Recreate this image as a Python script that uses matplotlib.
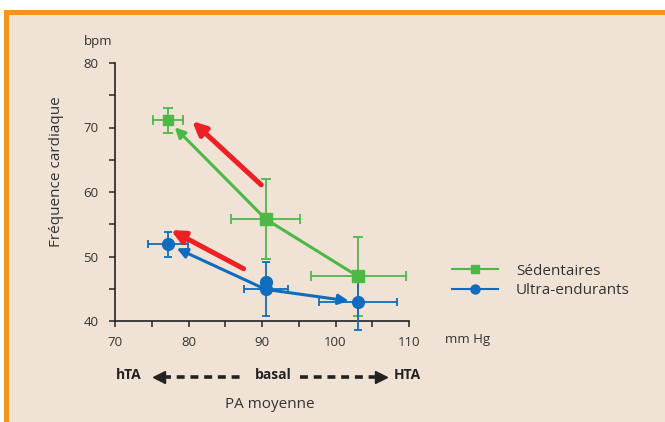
import matplotlib
matplotlib.use("Agg")
import matplotlib.pyplot as plt
from matplotlib.lines import Line2D
from matplotlib.patches import Rectangle
from matplotlib.ticker import MultipleLocator

plt.rcParams['font.family'] = ['Open Sans', 'DejaVu Sans']

# ---- data ----
series_names = ["Sédentaires", "Ultra-endurants"]
sed_pa = [77.2, 90.5, 103.1]
sed_fc = [71.1, 55.8, 46.9]
sed_pa_err = [2.0, 4.7, 6.5]
sed_fc_err = [2.0, 6.2, 6.1]

ue_pa = [77.2, 90.5, 103.1]
ue_fc = [51.9, 44.9, 42.9]
ue_pa_err = [2.7, 3.0, 5.3]
ue_fc_err = [1.9, 4.2, 4.3]
ue_extra_pa = [90.5]
ue_extra_fc = [46.1]

# red trend arrows: (tail_x, tail_y, tip_x, tip_y)
red_arrows = [(89.9, 61.1, 80.5, 71.0), (87.5, 48.1, 77.6, 54.1)]

x_ticks = [70, 80, 90, 100, 110]
y_ticks = [40, 50, 60, 70, 80]

GREEN = "#4DB848"
GREEN_CAP = "#7DC873"
BLUE = "#0F6CBF"
RED = "#EE2024"
BG = "#F0E3D6"
ORANGE = "#F7941D"
TXT = "#333333"

W, H = 665, 422
fig = plt.figure(figsize=(W / 100, H / 100), dpi=100)
fig.patch.set_facecolor("white")


def fx(x):
    return x / W


def fy(y):
    return 1 - y / H


# background panel + orange frame
fig.patches.append(Rectangle((fx(4), 0), 1, fy(10), transform=fig.transFigure,
                             facecolor=BG, edgecolor="none", zorder=-10))
fig.patches.append(Rectangle((fx(4), fy(15)), 1, 5 / H, transform=fig.transFigure,
                             facecolor=ORANGE, edgecolor="none", zorder=-9))
fig.patches.append(Rectangle((fx(4), 0), 5 / W, fy(10), transform=fig.transFigure,
                             facecolor=ORANGE, edgecolor="none", zorder=-9))

ax = fig.add_axes([fx(115), fy(321), (409 - 115) / W, (321 - 63) / H])
ax.set_facecolor("none")
ax.set_xlim(70, 110)
ax.set_ylim(40, 80)
for s in ["top", "right"]:
    ax.spines[s].set_visible(False)
for s in ["left", "bottom"]:
    ax.spines[s].set_linewidth(1.2)
    ax.spines[s].set_color("#222222")
ax.set_xticks(x_ticks)
ax.set_yticks(y_ticks)
ax.xaxis.set_minor_locator(MultipleLocator(5))
ax.yaxis.set_minor_locator(MultipleLocator(5))
ax.tick_params(which="both", direction="out", length=4, width=1.1, color="#222222")
ax.tick_params(axis="x", which="major", pad=7, labelsize=9.5, labelcolor=TXT)
ax.tick_params(axis="y", which="major", pad=8, labelsize=9.5, labelcolor=TXT)

# error bars
eb = ax.errorbar(sed_pa, sed_fc, xerr=sed_pa_err, yerr=sed_fc_err, fmt="none",
                 ecolor=GREEN, elinewidth=1.3, capsize=3.5, capthick=1.3, zorder=3,
                 clip_on=False)
eb2 = ax.errorbar(ue_pa, ue_fc, xerr=ue_pa_err, yerr=ue_fc_err, fmt="none",
                  ecolor=BLUE, elinewidth=1.3, capsize=3, capthick=1.3, zorder=3,
                  clip_on=False)
for c in eb2[1]:
    c.set_color(GREEN_CAP)
for c in list(eb[1]) + list(eb2[1]):
    c.set_clip_on(False)
for c in list(eb[2]) + list(eb2[2]):
    c.set_clip_on(False)

# connecting lines
ax.plot(sed_pa[1:], sed_fc[1:], color=GREEN, lw=2.2, zorder=4)
ax.annotate("", xy=(sed_pa[0], sed_fc[0]), xytext=(sed_pa[1], sed_fc[1]),
            arrowprops=dict(arrowstyle="-|>,head_length=0.6,head_width=0.3",
                            color=GREEN, lw=2.2, shrinkA=0, shrinkB=7), zorder=4)
ax.annotate("", xy=(ue_pa[0], ue_fc[0]), xytext=(ue_pa[1], ue_fc[1]),
            arrowprops=dict(arrowstyle="-|>,head_length=0.6,head_width=0.3",
                            color=BLUE, lw=2.2, shrinkA=0, shrinkB=7), zorder=4)
ax.annotate("", xy=(ue_pa[2], ue_fc[2]), xytext=(ue_pa[1], ue_fc[1]),
            arrowprops=dict(arrowstyle="-|>,head_length=0.6,head_width=0.3",
                            color=BLUE, lw=2.2, shrinkA=0, shrinkB=7), zorder=4)

# markers
ax.plot(sed_pa[:1], sed_fc[:1], "s", color=GREEN, ms=7, zorder=5, clip_on=False)
ax.plot(sed_pa[1:], sed_fc[1:], "s", color=GREEN, ms=9, zorder=5, clip_on=False)
ax.plot(ue_pa, ue_fc, "o", color=BLUE, ms=8.5, zorder=5, clip_on=False)
ax.plot(ue_extra_pa, ue_extra_fc, "o", color=BLUE, ms=8.5, zorder=5)

# red arrows
for tx, ty, hx, hy in red_arrows:
    ax.annotate("", xy=(hx, hy), xytext=(tx, ty),
                arrowprops=dict(arrowstyle="-|>,head_length=0.8,head_width=0.38",
                                color=RED, lw=3.6, shrinkA=0, shrinkB=0), zorder=6)

# legend
handles = [Line2D([], [], color=GREEN, lw=1.5, marker="s", ms=6),
           Line2D([], [], color=BLUE, lw=1.5, marker="o", ms=6.5)]
leg = fig.legend(handles, series_names, loc="upper left",
                 bbox_to_anchor=(fx(438), fy(250)), frameon=False,
                 fontsize=11, handlelength=3.0, handletextpad=1.2,
                 labelspacing=0.3)
for t in leg.get_texts():
    t.set_color(TXT)

# text annotations
fig.text(fx(84), fy(42), "bpm", fontsize=9.5, color=TXT, va="center", ha="left")
fig.text(fx(445), fy(339), "mm Hg", fontsize=9.5, color=TXT, va="center", ha="left")
fig.text(fx(57), fy(172), "Fréquence cardiaque", fontsize=11, color=TXT,
         rotation=90, va="center", ha="center")
fig.text(fx(129), fy(375), "hTA", fontsize=10, fontweight="bold", color="#222222",
         va="center", ha="center")
fig.text(fx(273), fy(375), "basal", fontsize=10, fontweight="bold", color="#222222",
         va="center", ha="center")
fig.text(fx(407), fy(375), "HTA", fontsize=10, fontweight="bold", color="#222222",
         va="center", ha="center")
fig.text(fx(270), fy(405), "PA moyenne", fontsize=11, color=TXT,
         va="center", ha="center")

# dashed direction arrows
ya = fy(377)
fig.add_artist(Line2D([fx(163), fx(240)], [ya, ya], transform=fig.transFigure,
                      color="#222222", lw=2.6, ls=(0, (2.2, 1.6))))
fig.add_artist(Line2D([fx(159)], [ya], transform=fig.transFigure, color="#222222",
                      marker="<", ms=8, lw=0))
fig.add_artist(Line2D([fx(300), fx(377)], [ya, ya], transform=fig.transFigure,
                      color="#222222", lw=2.6, ls=(0, (2.2, 1.6))))
fig.add_artist(Line2D([fx(381)], [ya], transform=fig.transFigure, color="#222222",
                      marker=">", ms=8, lw=0))

fig.savefig("out.png", dpi=100, facecolor=fig.get_facecolor())
